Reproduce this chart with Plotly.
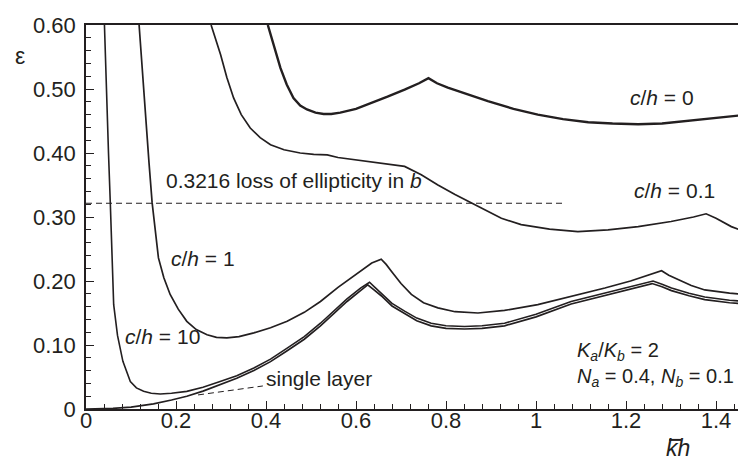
import plotly.graph_objects as go

# ---------------- data ----------------
x_c0 = [0.404, 0.418, 0.432, 0.446, 0.461, 0.476, 0.491, 0.510, 0.528, 0.545, 0.565, 0.600,
        0.634, 0.670, 0.708, 0.740, 0.761, 0.780, 0.804, 0.850, 0.893, 0.950, 1.004, 1.060,
        1.116, 1.170, 1.227, 1.280, 1.338, 1.410, 1.484]
y_c0 = [0.600, 0.565, 0.533, 0.507, 0.486, 0.474, 0.468, 0.463, 0.461, 0.461, 0.463, 0.469,
        0.478, 0.488, 0.499, 0.509, 0.517, 0.509, 0.502, 0.491, 0.481, 0.469, 0.460, 0.453,
        0.448, 0.446, 0.445, 0.446, 0.450, 0.455, 0.461]

x_c01 = [0.278, 0.289, 0.299, 0.313, 0.328, 0.345, 0.365, 0.387, 0.410, 0.440, 0.476, 0.506,
         0.536, 0.560, 0.600, 0.634, 0.670, 0.708, 0.745, 0.782, 0.820, 0.856, 0.890, 0.923,
         0.967, 1.030, 1.093, 1.160, 1.227, 1.300, 1.350, 1.378, 1.400, 1.434, 1.484]
y_c01 = [0.600, 0.575, 0.554, 0.518, 0.486, 0.460, 0.439, 0.424, 0.413, 0.405, 0.400, 0.398,
         0.397, 0.393, 0.389, 0.386, 0.383, 0.379, 0.366, 0.350, 0.335, 0.322, 0.309, 0.298,
         0.288, 0.281, 0.277, 0.280, 0.285, 0.293, 0.300, 0.305, 0.298, 0.285, 0.272]

x_c1 = [0.118, 0.125, 0.132, 0.140, 0.147, 0.154, 0.161, 0.173, 0.187, 0.205, 0.224, 0.245,
        0.269, 0.290, 0.313, 0.340, 0.373, 0.410, 0.447, 0.485, 0.521, 0.560, 0.600, 0.635,
        0.656, 0.667, 0.679, 0.700, 0.723, 0.750, 0.782, 0.820, 0.871, 0.930, 1.004, 1.080,
        1.153, 1.210, 1.260, 1.279, 1.295, 1.316, 1.345, 1.375, 1.430, 1.484]
y_c1 = [0.600, 0.530, 0.455, 0.385, 0.322, 0.275, 0.236, 0.205, 0.179, 0.156, 0.137, 0.124,
        0.116, 0.112, 0.111, 0.113, 0.119, 0.127, 0.137, 0.151, 0.168, 0.190, 0.210, 0.228,
        0.234, 0.226, 0.215, 0.196, 0.179, 0.166, 0.158, 0.152, 0.150, 0.154, 0.163, 0.176,
        0.189, 0.200, 0.211, 0.216, 0.209, 0.202, 0.193, 0.186, 0.181, 0.178]

x_c10 = [0.041, 0.045, 0.050, 0.054, 0.058, 0.0615, 0.070, 0.082, 0.0985, 0.112, 0.128, 0.145,
         0.165, 0.190, 0.224, 0.260, 0.298, 0.335, 0.373, 0.410, 0.447, 0.485, 0.521, 0.550,
         0.580, 0.610, 0.630, 0.642, 0.656, 0.680, 0.708, 0.735, 0.767, 0.800, 0.841, 0.880,
         0.930, 1.000, 1.078, 1.170, 1.260, 1.280, 1.301, 1.340, 1.375, 1.430, 1.484]
y_c10 = [0.600, 0.500, 0.400, 0.322, 0.240, 0.163, 0.115, 0.0745, 0.043, 0.033, 0.0276, 0.0245,
         0.0234, 0.0245, 0.0276, 0.034, 0.043, 0.052, 0.064, 0.078, 0.095, 0.113, 0.134, 0.153,
         0.172, 0.189, 0.198, 0.190, 0.181, 0.165, 0.153, 0.142, 0.134, 0.130, 0.129, 0.130,
         0.134, 0.148, 0.168, 0.184, 0.200, 0.195, 0.189, 0.181, 0.175, 0.170, 0.167]

x_single = [0.0, 0.03, 0.06, 0.10, 0.15, 0.19, 0.224, 0.260, 0.298, 0.335, 0.373, 0.410,
            0.447, 0.485, 0.521, 0.550, 0.580, 0.610, 0.626, 0.640, 0.656, 0.680, 0.708,
            0.735, 0.767, 0.800, 0.841, 0.880, 0.930, 1.000, 1.078, 1.170, 1.258, 1.280,
            1.301, 1.340, 1.375, 1.430, 1.484]
y_single = [0.0, 0.0003, 0.001, 0.003, 0.008, 0.014, 0.020, 0.028, 0.038, 0.048, 0.060, 0.074,
            0.091, 0.109, 0.130, 0.149, 0.168, 0.185, 0.194, 0.186, 0.177, 0.161, 0.149,
            0.138, 0.130, 0.126, 0.125, 0.126, 0.130, 0.144, 0.164, 0.180, 0.196, 0.191,
            0.185, 0.177, 0.171, 0.166, 0.163]

loss_level = 0.3216
loss_x = [0.0, 1.064]
single_leader_x = [0.249, 0.393]
single_leader_y = [0.022, 0.036]

y_tickvals = [0, 0.1, 0.2, 0.3, 0.4, 0.5, 0.6]
y_ticktext = ["0", "0.10", "0.20", "0.30", "0.40", "0.50", "0.60"]
x_tickvals = [0, 0.2, 0.4, 0.6, 0.8, 1.0, 1.2, 1.4]
x_ticktext = ["0", "0.2", "0.4", "0.6", "0.8", "1", "1.2", "1.4"]

# ---------------- figure ----------------
INK = "#231f20"
FONT = "Liberation Sans, Arial, sans-serif"
FS_TICK = 22
FS = 21

fig = go.Figure()

def add_line(x, y, width, dash=None):
    fig.add_trace(go.Scatter(x=x, y=y, mode="lines",
                             line=dict(color=INK, width=width, dash=dash),
                             showlegend=False, hoverinfo="skip", cliponaxis=True))

add_line(x_c0, y_c0, 2.4)
add_line(x_c01, y_c01, 1.7)
add_line(x_c1, y_c1, 1.7)
add_line(x_c10, y_c10, 1.6)
add_line(x_single, y_single, 1.7)
add_line(loss_x, [loss_level, loss_level], 1.1, dash="6px,4px")
add_line(single_leader_x, single_leader_y, 1.0, dash="6px,4px")

ann = []
def label(x, y, text, xanchor="center", xref="x", yref="y", size=FS, align="center"):
    ann.append(dict(x=x, y=y, xref=xref, yref=yref, text=text, showarrow=False,
                    xanchor=xanchor, yanchor="middle", align=align,
                    font=dict(family=FONT, size=size, color=INK)))

DY = 0.0125  # compensate annotation box baseline offset
label(0.174, 0.345 + DY, "0.3216 loss of ellipticity in <i>b</i>", xanchor="left")
label(1.281, 0.475 + DY, "<i>c</i>/<i>h</i> = 0")
label(1.307, 0.3286 + DY, "<i>c</i>/<i>h</i> = 0.1")
label(0.260, 0.223 + DY, "<i>c</i>/<i>h</i> = 1")
label(0.170, 0.1005 + DY, "<i>c</i>/<i>h</i> = 10")
label(0.395, 0.0355 + DY, "single layer", xanchor="left")
label(1.444, 0.069,
      "<i>K<sub>a</sub></i>/<i>K<sub>b</sub></i> = 2<br>"
      "<i>N<sub>a</sub></i> = 0.4, <i>N<sub>b</sub></i> = 0.1",
      xanchor="right", align="left", size=20)
label(-0.099, 0.92, "ε", xref="paper", yref="paper", size=23)
label(0.8862, -0.1025, "<i>kh</i>", xref="paper", yref="paper", size=23)

fig.update_layout(
    width=746, height=457,
    margin=dict(l=78, r=0, t=17, b=56, pad=0),
    paper_bgcolor="white", plot_bgcolor="white",
    font=dict(family=FONT, size=FS, color=INK),
    annotations=ann,
    showlegend=False,
    shapes=[dict(type="line", xref="paper", yref="paper",
                 x0=0.8730, x1=0.8910, y0=-0.0805, y1=-0.0805,
                 line=dict(color=INK, width=2))],
)

fig.update_xaxes(
    range=[0, 1.4844], showgrid=False, zeroline=False,
    showline=True, linecolor=INK, linewidth=1.6, mirror=True,
    ticks="inside", ticklen=8, tickwidth=1.2, tickcolor=INK,
    tickvals=x_tickvals, ticktext=x_ticktext, ticklabelstandoff=-9,
    minor=dict(ticks="inside", dtick=0.04, tick0=0, ticklen=5, tickwidth=1, tickcolor=INK),
    tickfont=dict(family=FONT, size=FS_TICK, color=INK),
)
fig.update_yaxes(
    range=[0, 0.6], showgrid=False, zeroline=False,
    showline=True, linecolor=INK, linewidth=1.6, mirror=False,
    ticks="inside", ticklen=8, tickwidth=1.2, tickcolor=INK,
    tickvals=y_tickvals, ticktext=y_ticktext, ticklabelstandoff=4,
    minor=dict(ticks="inside", dtick=0.02, tick0=0, ticklen=5, tickwidth=1, tickcolor=INK),
    tickfont=dict(family=FONT, size=FS_TICK, color=INK),
)

fig.write_html("out.html")
